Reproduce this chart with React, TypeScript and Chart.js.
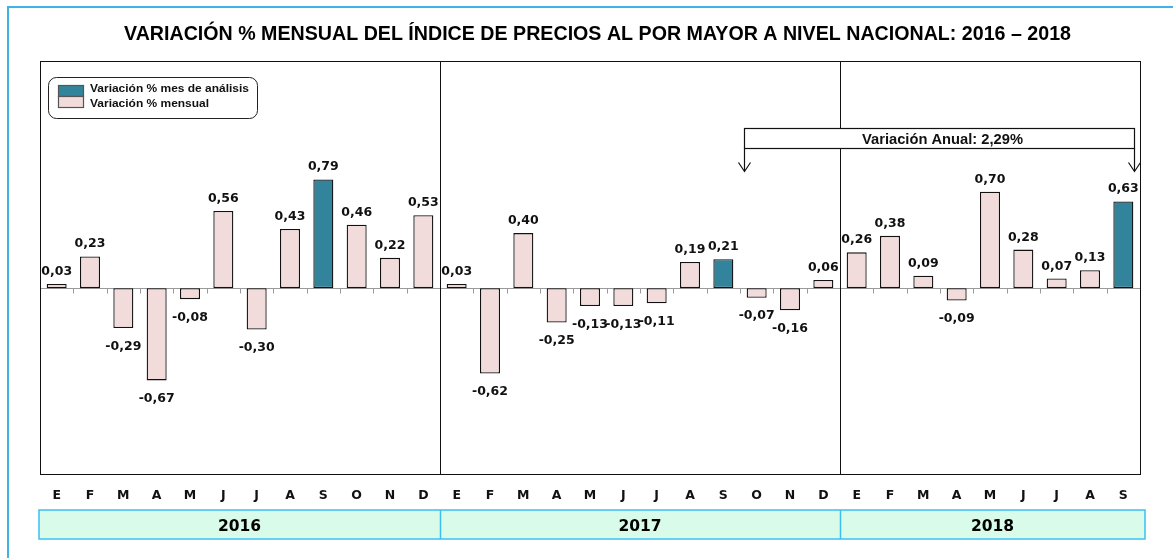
import React, { useEffect, useRef } from "react";
import { Chart, registerables } from "chart.js";

Chart.register(...registerables);

const titleText = "VARIACIÓN % MENSUAL DEL ÍNDICE DE PRECIOS AL POR MAYOR A NIVEL NACIONAL: 2016 – 2018";
const months = ["E", "F", "M", "A", "M", "J", "J", "A", "S", "O", "N", "D"];
const years = ["2016", "2017", "2018"];
const values2016 = [0.03, 0.23, -0.29, -0.67, -0.08, 0.56, -0.3, 0.43, 0.79, 0.46, 0.22, 0.53];
const values2017 = [0.03, -0.62, 0.4, -0.25, -0.13, -0.13, -0.11, 0.19, 0.21, -0.07, -0.16, 0.06];
const values2018 = [0.26, 0.38, 0.09, -0.09, 0.7, 0.28, 0.07, 0.13, 0.63];
const highlightMonthIndex = 8; // S (septiembre), mes de análisis
const annualVariation = 2.29;
const seriesNames = ["Variación % mes de análisis", "Variación % mensual"];

const TEAL = "#31849b";
const PINK = "#f2dcdb";
const LABEL_FONT = '"DejaVu Sans", Verdana, sans-serif';

const yearSeries = [values2016, values2017, values2018];
const labels: string[] = [];
const allValues: number[] = [];
const isHighlight: boolean[] = [];
yearSeries.forEach((vals) => {
  vals.forEach((v, i) => {
    labels.push(months[i]);
    allValues.push(v);
    isHighlight.push(i === highlightMonthIndex);
  });
});
const monthlyData = allValues.map((v, i) => (isHighlight[i] ? null : v));
const analysisData = allValues.map((v, i) => (isHighlight[i] ? v : null));

const fmt = (v: number) => v.toFixed(2).replace(".", ",");

function fitText(ctx: CanvasRenderingContext2D, text: string, cx: number, y: number, w: number, font: string) {
  ctx.save();
  ctx.font = font;
  const m = ctx.measureText(text).width;
  ctx.translate(cx, y);
  ctx.scale(w / m, 1);
  ctx.textAlign = "center";
  ctx.textBaseline = "alphabetic";
  ctx.fillText(text, 0, 0);
  ctx.restore();
}

const decor = {
  id: "decor",
  beforeDraw(chart: any) {
    const ctx: CanvasRenderingContext2D = chart.ctx;
    const W = chart.width;
    const H = chart.height;
    const xs = chart.scales.x;
    const ca = chart.chartArea;
    const catW = xs.getPixelForValue(1) - xs.getPixelForValue(0);
    const boundary = (i: number) => xs.getPixelForValue(0) - catW / 2 + i * catW;
    ctx.save();
    ctx.fillStyle = "#ffffff";
    ctx.fillRect(0, 0, W, H);
    // outer frame
    ctx.strokeStyle = "#3fb3e6";
    ctx.lineWidth = 2;
    ctx.beginPath();
    ctx.moveTo(8, H);
    ctx.lineTo(8, 7);
    ctx.lineTo(W, 7);
    ctx.stroke();
    // title
    ctx.fillStyle = "#000";
    fitText(ctx, titleText, 597.5, 40, 947, 'bold 21px "Liberation Sans Narrow", "Arial Narrow", "Liberation Sans", Arial, sans-serif');
    // year bar
    const top = ca.bottom + 36;
    const h = 29;
    const starts = [0, 12, 24, allValues.length];
    const x0 = boundary(0) - 1;
    const x1 = boundary(allValues.length) + 5;
    ctx.fillStyle = "#d8fbea";
    ctx.fillRect(x0, top, x1 - x0, h);
    ctx.strokeStyle = "#3cc0f2";
    ctx.lineWidth = 1.5;
    ctx.strokeRect(x0, top, x1 - x0, h);
    ctx.beginPath();
    [12, 24].forEach((i) => {
      const bx = Math.round(boundary(i)) + 0.5;
      ctx.moveTo(bx, top);
      ctx.lineTo(bx, top + h);
    });
    ctx.stroke();
    ctx.fillStyle = "#000";
    ctx.font = "bold 15.5px " + LABEL_FONT;
    ctx.textAlign = "center";
    ctx.textBaseline = "alphabetic";
    years.forEach((yr, k) => {
      const a = k === 0 ? x0 : boundary(starts[k]);
      const b = k === years.length - 1 ? x1 : boundary(starts[k + 1]);
      ctx.fillText(yr, (a + b) / 2, top + 21);
    });
    ctx.restore();
  },
  beforeDatasetsDraw(chart: any) {
    const ctx: CanvasRenderingContext2D = chart.ctx;
    const xs = chart.scales.x;
    const ys = chart.scales.y;
    const ca = chart.chartArea;
    const catW = xs.getPixelForValue(1) - xs.getPixelForValue(0);
    const boundary = (i: number) => xs.getPixelForValue(0) - catW / 2 + i * catW;
    const y0 = Math.round(ys.getPixelForValue(0)) + 0.5;
    ctx.save();
    ctx.strokeStyle = "#9a9a9a";
    ctx.lineWidth = 1;
    ctx.beginPath();
    ctx.moveTo(ca.left, y0);
    ctx.lineTo(ca.right, y0);
    for (let i = 0; i <= allValues.length; i++) {
      const bx = Math.round(boundary(i)) + 0.5;
      ctx.moveTo(bx, y0);
      ctx.lineTo(bx, y0 + 5);
    }
    ctx.stroke();
    ctx.restore();
  },
  afterDatasetsDraw(chart: any) {
    const ctx: CanvasRenderingContext2D = chart.ctx;
    const xs = chart.scales.x;
    const ca = chart.chartArea;
    const catW = xs.getPixelForValue(1) - xs.getPixelForValue(0);
    const boundary = (i: number) => xs.getPixelForValue(0) - catW / 2 + i * catW;
    ctx.save();
    // plot frame and year dividers
    ctx.strokeStyle = "#111";
    ctx.lineWidth = 1;
    ctx.strokeRect(Math.round(ca.left) + 0.5, Math.round(ca.top) + 0.5, Math.round(ca.right - ca.left), Math.round(ca.bottom - ca.top));
    ctx.beginPath();
    [12, 24].forEach((i) => {
      const bx = Math.round(boundary(i)) + 0.5;
      ctx.moveTo(bx, ca.top);
      ctx.lineTo(bx, ca.bottom);
    });
    ctx.stroke();

    // data labels
    ctx.fillStyle = "#111";
    ctx.font = "bold 12.5px " + LABEL_FONT;
    ctx.textAlign = "center";
    ctx.textBaseline = "alphabetic";
    chart.data.datasets.forEach((ds: any, di: number) => {
      const meta = chart.getDatasetMeta(di);
      meta.data.forEach((el: any, i: number) => {
        const v = ds.data[i];
        if (v === null || v === undefined) return;
        const y = v >= 0 ? el.y - 9 : el.y + 21.5;
        ctx.fillText(fmt(v), el.x, y);
      });
    });

    // annual variation annotation
    const ax0 = Math.round(xs.getPixelForValue(20) + 0.62 * catW) + 0.5;
    const ax1 = Math.round(xs.getPixelForValue(32) + 0.33 * catW) + 0.5;
    const bTop = ca.top + 67.5;
    const bBot = bTop + 20;
    const tip = bBot + 23;
    ctx.fillStyle = "#fff";
    ctx.fillRect(ax0, bTop, ax1 - ax0, bBot - bTop);
    ctx.strokeStyle = "#111";
    ctx.lineWidth = 1.2;
    ctx.strokeRect(ax0, bTop, ax1 - ax0, bBot - bTop);
    ctx.beginPath();
    [ax0, ax1].forEach((ax) => {
      ctx.moveTo(ax, bBot);
      ctx.lineTo(ax, tip);
      ctx.moveTo(ax - 6, tip - 9);
      ctx.lineTo(ax, tip);
      ctx.lineTo(ax + 6, tip - 9);
    });
    ctx.stroke();
    ctx.fillStyle = "#111";
    fitText(ctx, "Variación Anual: " + fmt(annualVariation) + "%", 942.5, bBot - 5, 161, 'bold 15px "Liberation Sans Narrow", "Arial Narrow", "Liberation Sans", Arial, sans-serif');

    // legend
    const lx = ca.left + 8.5;
    const ly = ca.top + 16.5;
    const lw = 209;
    const lh = 41;
    ctx.beginPath();
    ctx.roundRect(lx, ly, lw, lh, 8);
    ctx.fillStyle = "#fff";
    ctx.fill();
    ctx.strokeStyle = "#222";
    ctx.lineWidth = 1;
    ctx.stroke();
    const colors = [TEAL, PINK];
    colors.forEach((c, k) => {
      ctx.fillStyle = c;
      ctx.fillRect(lx + 10, ly + 8 + k * 11, 25, 11);
      ctx.strokeStyle = "#555";
      ctx.lineWidth = 1.2;
      ctx.strokeRect(lx + 10, ly + 8 + k * 11, 25, 11);
    });
    ctx.fillStyle = "#111";
    ctx.textAlign = "left";
    seriesNames.forEach((n, k) => {
      ctx.save();
      ctx.font = 'bold 11.5px "Liberation Sans", Arial, sans-serif';
      const m = ctx.measureText(seriesNames[0]).width;
      ctx.translate(lx + 41.5, ly + 14 + k * 15.5);
      ctx.scale(159 / m, 1);
      ctx.fillText(n, 0, 0);
      ctx.restore();
    });
    ctx.restore();
  },
};

export default function App() {
  const ref = useRef<HTMLCanvasElement | null>(null);
  useEffect(() => {
    if (!ref.current) return;
    const chart = new Chart(ref.current, {
      type: "bar",
      data: {
        labels,
        datasets: [
          {
            label: seriesNames[0],
            data: analysisData,
            backgroundColor: TEAL,
            borderColor: "#111",
            borderWidth: 1.3,
            borderSkipped: false,
            grouped: false,
            barPercentage: 0.6,
            categoryPercentage: 1,
          } as any,
          {
            label: seriesNames[1],
            data: monthlyData,
            backgroundColor: PINK,
            borderColor: "#111",
            borderWidth: 1.3,
            borderSkipped: false,
            grouped: false,
            barPercentage: 0.6,
            categoryPercentage: 1,
          } as any,
        ],
      },
      options: {
        responsive: false,
        animation: false,
        layout: { padding: { left: 40, top: 61, right: 33, bottom: 0 } },
        plugins: {
          legend: { display: false },
          title: { display: false },
          tooltip: { enabled: false },
        },
        scales: {
          x: {
            grid: { display: false, drawTicks: false },
            border: { display: false },
            ticks: {
              autoSkip: false,
              maxRotation: 0,
              padding: 14,
              color: "#111",
              font: { family: LABEL_FONT, size: 12.5, weight: "bold" },
            },
            afterFit: (s: any) => {
              s.height = 84;
            },
          },
          y: {
            display: false,
            min: -1.35,
            max: 1.65,
          },
        },
      },
      plugins: [decor],
    });
    return () => chart.destroy();
  }, []);
  return (
    <div style={{ position: "fixed", left: 0, top: 0, width: 1173, height: 558, overflow: "hidden", background: "#fff" }}>
      <canvas ref={ref} width={1173} height={558} style={{ display: "block" }} />
    </div>
  );
}
